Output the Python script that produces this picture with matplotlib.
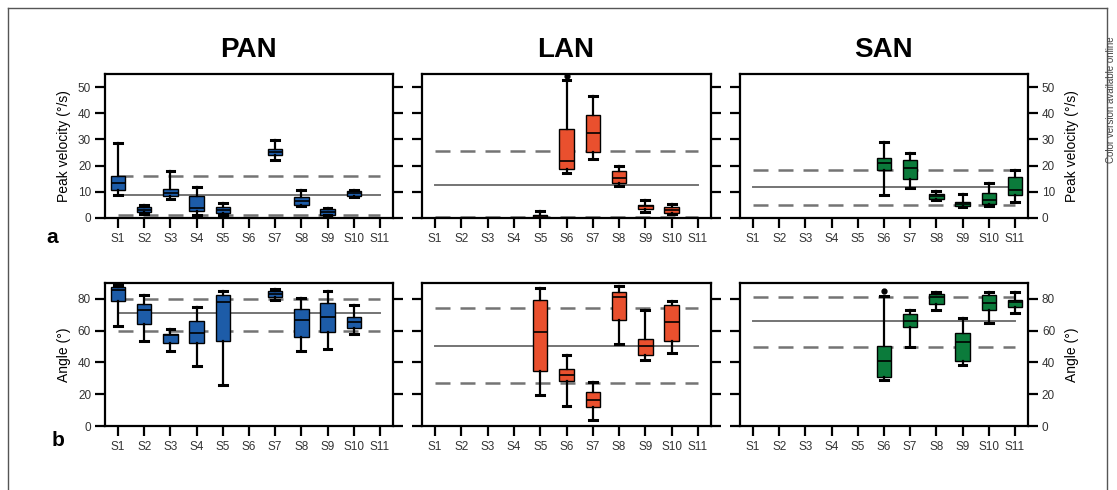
import matplotlib.pyplot as plt
from matplotlib.lines import Line2D

plt.rcParams['font.family'] = ['Liberation Sans', 'DejaVu Sans']

subjects = ['S1', 'S2', 'S3', 'S4', 'S5', 'S6', 'S7', 'S8', 'S9', 'S10', 'S11']

# box stats per subject: (whisker low, q1, median, q3, whisker high), None = no data
pan_vel = [(8.7, 10.6, 13.4, 16.0, 28.8), (1.5, 2.2, 3.2, 4.2, 5.0), (7.3, 8.3, 9.7, 10.9, 17.9),
           (1.3, 2.6, 3.8, 8.3, 11.9), (1.3, 1.9, 2.9, 4.1, 5.9), None, (22.1, 24.2, 25.3, 26.3, 29.8),
           (4.5, 4.9, 6.5, 8.1, 10.6), (1.0, 1.3, 2.3, 3.3, 4.0), (8.0, 8.4, 9.6, 10.5, 10.6), None]
lan_vel = [None, None, None, None, (0.0, 0.0, 0.8, 1.3, 2.6), (17.3, 18.9, 21.9, 33.9, 52.6),
           (22.4, 25.3, 32.6, 39.5, 46.7), (12.1, 13.2, 15.2, 17.9, 19.8), (2.3, 3.5, 4.5, 5.0, 6.8),
           (1.5, 2.0, 3.2, 4.2, 5.2), None]
san_vel = [None, None, None, None, None, (8.7, 18.5, 21.1, 23.1, 29.0), (11.5, 15.0, 19.1, 22.1, 24.7),
           (6.8, 7.3, 8.3, 9.0, 10.2), (4.2, 4.6, 5.5, 6.1, 9.0), (4.6, 5.2, 7.0, 9.7, 13.2),
           (6.1, 8.8, 10.6, 15.5, 18.5)]

pan_ang = [(63.2, 78.5, 85.7, 87.3, 89.0), (53.8, 63.9, 73.3, 76.9, 82.5), (47.1, 52.4, 57.0, 58.0, 61.2),
           (37.7, 52.1, 58.4, 65.8, 74.8), (25.5, 53.4, 77.9, 82.7, 85.2), None, (79.4, 81.5, 83.1, 84.8, 86.1),
           (47.1, 56.3, 67.0, 73.7, 80.4), (48.2, 59.1, 68.9, 77.3, 85.2), (57.6, 61.8, 65.3, 68.5, 76.4), None]
lan_ang = [None, None, None, None, (19.3, 34.6, 59.1, 79.4, 86.9), (12.4, 28.3, 31.8, 35.8, 44.4),
           (4.0, 11.9, 16.5, 21.4, 27.6), (51.7, 66.4, 81.0, 84.2, 88.0), (41.7, 45.0, 50.1, 54.5, 73.1),
           (45.9, 53.8, 65.3, 76.2, 78.5), None]
san_ang = [None, None, None, None, None, (29.1, 30.8, 40.6, 50.3, 82.1), (49.6, 62.2, 66.0, 70.6, 73.1),
           (73.3, 76.9, 81.0, 83.1, 84.6), (38.1, 40.8, 52.8, 58.8, 68.1), (64.7, 72.7, 77.3, 82.7, 84.6),
           (71.2, 74.8, 77.9, 79.4, 84.6)]

# outliers: subject index (1-based) -> values
lan_vel_out = {6: [54.3]}
san_ang_out = {6: [84.8]}

# reference lines: (lower dashed, mean solid, upper dashed)
pan_vel_ref = (1.0, 8.7, 16.1)
lan_vel_ref = (0.3, 12.7, 25.6)
san_vel_ref = (5.1, 11.8, 18.5)
pan_ang_ref = (60.1, 71.0, 80.2)
lan_ang_ref = (27.0, 50.5, 74.1)
san_ang_ref = (49.6, 65.8, 81.5)

colors = {'PAN': '#1d5ca8', 'LAN': '#e9502e', 'SAN': '#0b7b3b'}

W, H = 1117, 490
fig = plt.figure(figsize=(W / 100, H / 100), dpi=100)


def px_axes(left, right, top, bottom):
    return fig.add_axes([left / W, 1 - bottom / H, (right - left) / W, (bottom - top) / H])


def draw(ax, stats, ref, color, ylim, yticks, outliers, side):
    items, pos = [], []
    for i, s in enumerate(stats):
        if s is None:
            continue
        lo, q1, med, q3, hi = s
        items.append(dict(whislo=lo, q1=q1, med=med, q3=q3, whishi=hi,
                          fliers=outliers.get(i + 1, [])))
        pos.append(i + 1)
    ax.bxp(items, positions=pos, widths=0.55, patch_artist=True, showfliers=True,
           boxprops=dict(facecolor=color, edgecolor='black', lw=1),
           medianprops=dict(color='black', lw=1.2),
           whiskerprops=dict(color='black', lw=1.6),
           capprops=dict(color='black', lw=2.2), capwidths=0.3,
           flierprops=dict(marker='o', ms=3.5, mfc='black', mec='black'))
    lo, mean, hi = ref
    ax.plot([1, 11], [mean, mean], color='#747474', lw=1.4, zorder=1)
    for v in (lo, hi):
        ax.plot([1, 11], [v, v], color='#747474', lw=1.8, dashes=(6, 4), zorder=1)
    ax.set_xlim(0.5, 11.5)
    ax.set_ylim(*ylim)
    ax.set_xticks(range(1, 12))
    ax.set_xticklabels(subjects)
    ax.set_yticks(yticks)
    for sp in ax.spines.values():
        sp.set_linewidth(1.6)
    ax.tick_params(axis='both', direction='out', length=7, width=1.6, labelsize=8.5,
                   labelcolor='#333333', left=True, right=True,
                   labelleft=(side == 'left'), labelright=(side == 'right'))
    ax.tick_params(axis='x', pad=4)
    ax.tick_params(axis='y', pad=3)


lefts = [(105, 393), (422, 711), (740, 1028)]
names = ['PAN', 'LAN', 'SAN']
sides = ['left', 'none', 'right']
vel = [pan_vel, lan_vel, san_vel]
ang = [pan_ang, lan_ang, san_ang]
vel_ref = [pan_vel_ref, lan_vel_ref, san_vel_ref]
ang_ref = [pan_ang_ref, lan_ang_ref, san_ang_ref]
vel_out = [{}, lan_vel_out, {}]
ang_out = [{}, {}, san_ang_out]

for k in range(3):
    l, r = lefts[k]
    ax_a = px_axes(l, r, 74, 218)
    draw(ax_a, vel[k], vel_ref[k], colors[names[k]], (0, 55), range(0, 51, 10), vel_out[k], sides[k])
    ax_b = px_axes(l, r, 283, 426)
    draw(ax_b, ang[k], ang_ref[k], colors[names[k]], (0, 90), range(0, 81, 20), ang_out[k], sides[k])
    fig.text((l + r) / 2 / W - 1 / W, 1 - 50 / H, names[k], ha='center', va='center',
             fontsize=20, fontweight='bold')
    if sides[k] == 'left':
        ax_a.set_ylabel('Peak velocity (°/s)', fontsize=10, labelpad=5)
        ax_b.set_ylabel('Angle (°)', fontsize=10, labelpad=5)
    elif sides[k] == 'right':
        ax_a.yaxis.set_label_position('right')
        ax_b.yaxis.set_label_position('right')
        ax_a.set_ylabel('Peak velocity (°/s)', fontsize=10, labelpad=7)
        ax_b.set_ylabel('Angle (°)', fontsize=10, labelpad=7)

fig.text(52 / W, 1 - 237 / H, 'a', fontsize=15, fontweight='bold', ha='center', va='center')
fig.text(58 / W, 1 - 440 / H, 'b', fontsize=15, fontweight='bold', ha='center', va='center')

# outer frame and side note
frame = dict(color='#555555', lw=1, transform=fig.transFigure)
fig.add_artist(Line2D([8 / W, 8 / W], [0, 1 - 8 / H], **frame))
fig.add_artist(Line2D([8 / W, 1107 / W], [1 - 8 / H, 1 - 8 / H], **frame))
fig.add_artist(Line2D([1107 / W, 1107 / W], [0, 1 - 8 / H], **frame))
fig.text(1106 / W, 1 - 100 / H, 'Color version available online', rotation=90,
         ha='left', va='center', fontsize=7, color='#444444')

fig.savefig('out.png', dpi=100)
